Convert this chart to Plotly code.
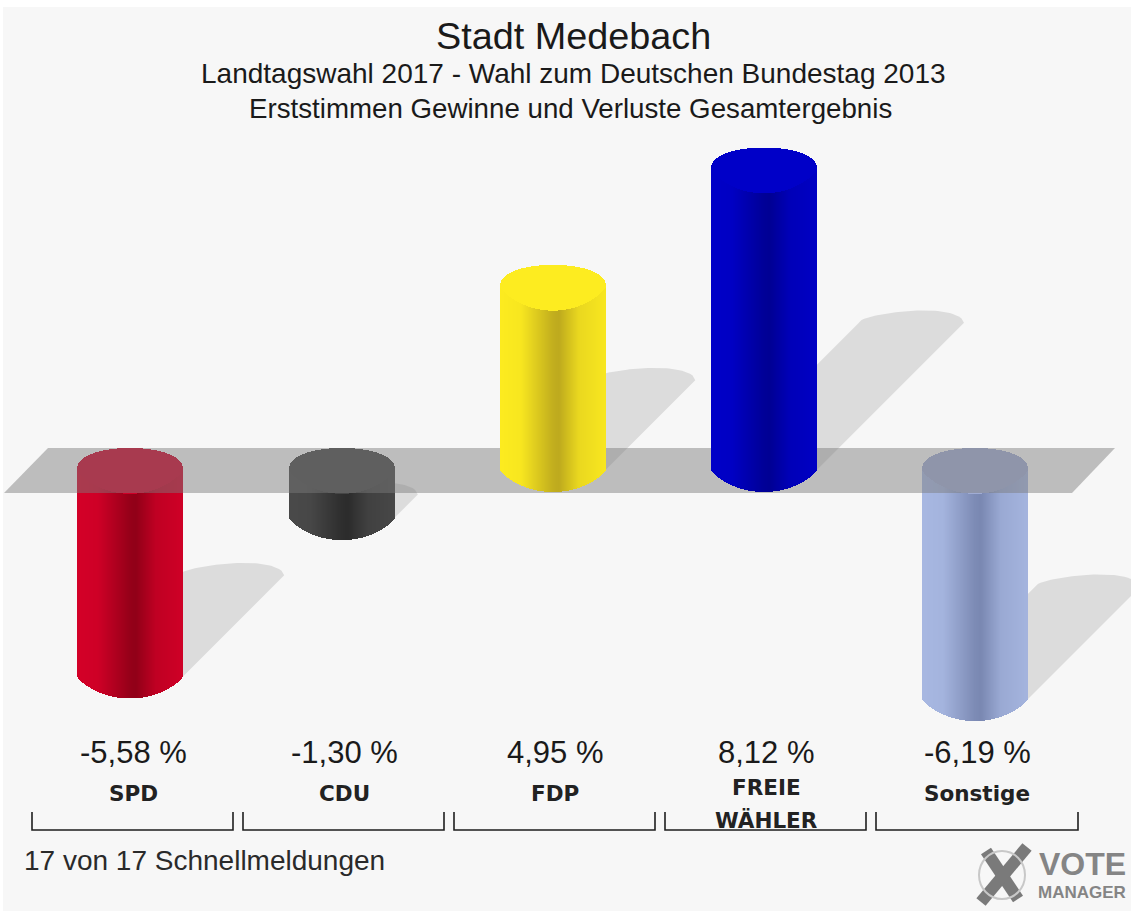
import numpy as np
import plotly.graph_objects as go

# --- data ---
parties = ["SPD", "CDU", "FDP", "FREIE WÄHLER", "Sonstige"]
changes = [-5.58, -1.30, 4.95, 8.12, -6.19]
title_main = "Stadt Medebach"
title_sub1 = "Landtagswahl 2017 - Wahl zum Deutschen Bundestag 2013"
title_sub2 = "Erststimmen Gewinne und Verluste Gesamtergebnis"
footer = "17 von 17 Schnellmeldungen"

# --- style ---
edge_cols = [(212, 0, 40), (74, 74, 74), (253, 236, 32), (0, 0, 200), (168, 184, 226)]
dark_cols = [(145, 0, 24), (44, 44, 44), (190, 170, 30), (0, 0, 148), (122, 136, 178)]
cap_cols = [(208, 0, 40), (70, 70, 70), (253, 236, 32), (0, 0, 200), (160, 172, 212)]
W, H = 1131, 911
SLOT = 211.25        # px between categories
X0 = 130.5           # px of first category
ZERO = 470           # px of value 0
PX_PER = 37.0        # px per percentage point
HALF = 52.5          # cylinder half width, px
RY = 22              # cap semi-axis, px
SHADOW = 0.49


def xv(px):
    return (np.asarray(px, float) - X0) / SLOT


def yv(px):
    return (ZERO - np.asarray(px, float)) / PX_PER


xrange_ = [float(xv(0)), float(xv(W))]
yrange_ = [float(yv(H)), float(yv(0))]
strip_n = 105
u = (np.arange(strip_n) + 0.5) / strip_n * 2 - 1
strip_w = 1.25 / SLOT
dry = RY / PX_PER


def shade(i):
    t = (u + 1) / 2
    f = np.interp(t, [0, 0.2, 0.5, 0.56, 0.75, 1], [0, 0.08, 0.92, 1, 0.3, 0.08])
    e, d = np.array(edge_cols[i], float), np.array(dark_cols[i], float)
    return ["rgb(%d,%d,%d)" % tuple(e + (d - e) * k) for k in f]


fig = go.Figure()
AX = dict(showgrid=False, zeroline=False, showticklabels=False, ticks="", showline=False,
          fixedrange=True, visible=False)
fig.update_layout(
    width=W, height=H, margin=dict(l=0, r=0, t=0, b=0), paper_bgcolor="white", plot_bgcolor="rgba(0,0,0,0)",
    showlegend=False, barmode="overlay", bargap=0,
    xaxis=dict(range=xrange_, domain=[0, 1], **AX), yaxis=dict(range=yrange_, domain=[0, 1], **AX),
    xaxis2=dict(range=xrange_, overlaying="x", **AX),
    yaxis2=dict(range=yrange_, overlaying="y", **AX),
    xaxis3=dict(range=xrange_, overlaying="x", **AX),
    yaxis3=dict(range=yrange_, overlaying="y", **AX),
    shapes=[dict(type="rect", xref="paper", yref="paper", x0=3 / W, x1=1, y0=0, y1=1 - 7 / H,
                 fillcolor="#f7f7f7", line_width=0, layer="below")],
)

# shadows (bottom layer)
for i, v in enumerate(changes):
    cx = i
    base = min(v, 0.0)
    length = abs(v) * SHADOW
    dx = length * PX_PER / SLOT
    hw = HALF / SLOT
    tt = np.linspace(-1, 1, 41)
    ax = cx + dx + tt * hw
    ay = base + length + (12 / PX_PER) * np.sqrt(1 - tt ** 2) * (1 + 0.25 * tt)
    sx = np.concatenate([[cx - hw], ax, [cx + hw]])
    sy = np.concatenate([[base], ay, [base]])
    fig.add_trace(go.Scatter(x=sx, y=sy, mode="lines", fill="toself", fillcolor="#dcdcdc",
                             line=dict(width=0, color="#dcdcdc"), hoverinfo="skip",
                             xaxis="x", yaxis="y"))


def cylinder(i, v, xa, ya):
    cx = i
    xs = cx + u * HALF / SLOT
    top = max(v, 0.0)
    bot = min(v, 0.0)
    low_arc = dry * (1 - u ** 2) ** 0.8
    up_arc = dry * (1 - u ** 2) ** 0.42
    # body
    fig.add_trace(go.Bar(x=xs, base=bot - low_arc, y=(top - (bot - low_arc)), width=strip_w,
                         marker=dict(color=shade(i), line_width=0), hoverinfo="skip",
                         xaxis=xa, yaxis=ya))
    # top cap
    col = "rgb(%d,%d,%d)" % cap_cols[i]
    lo = top - low_arc * 1.08
    hi = top + up_arc
    fig.add_trace(go.Bar(x=xs, base=lo, y=hi - lo, width=strip_w,
                         marker=dict(color=col, line_width=0), hoverinfo="skip",
                         xaxis=xa, yaxis=ya))


# negative cylinders, with the translucent zero plane above them
for i, v in enumerate(changes):
    if v < 0:
        cylinder(i, v, "x2", "y2")
plane_px_x = [4, 48, 1115, 1072, 4]
plane_px_y = [493, 448, 448, 493, 493]
fig.add_trace(go.Scatter(x=xv(plane_px_x), y=yv(plane_px_y), mode="lines", fill="toself",
                         fillcolor="rgba(123,123,123,0.47)", line=dict(width=0, color="rgba(0,0,0,0)"),
                         hoverinfo="skip", xaxis="x2", yaxis="y2"))

# positive cylinders in front of the plane
for i, v in enumerate(changes):
    if v > 0:
        cylinder(i, v, "x3", "y3")

# brackets
for i in range(len(parties)):
    l, r = 32 + i * 211, 233 + i * 211
    if i == 4:
        r += 1
    fig.add_trace(go.Scatter(x=xv([l, l, r, r]), y=yv([812, 830, 830, 812]), mode="lines",
                             line=dict(color="#1e1e1e", width=1.6), hoverinfo="skip",
                             xaxis="x3", yaxis="y3"))

# logo mark
fig.add_shape(type="circle", xref="x3", yref="y3", x0=float(xv(979)), x1=float(xv(1025)),
              y0=float(yv(851)), y1=float(yv(899)), line=dict(color="#c8c8c8", width=2), layer="above")
for a, b in [((986, 851), (1018, 899)), ((1027, 847), (981, 902))]:
    fig.add_trace(go.Scatter(x=xv([a[0], b[0]]), y=yv([a[1], b[1]]), mode="lines",
                             line=dict(color="#7a7a7a", width=12), hoverinfo="skip",
                             xaxis="x3", yaxis="y3"))


def label(px, py, text, size, family="Liberation Sans", color="#1a1a1a", anchor="center"):
    fig.add_annotation(xref="paper", yref="paper", x=px / W, y=1 - py / H, text=text, showarrow=False,
                       xanchor=anchor, yanchor="middle", align=anchor,
                       font=dict(family=family, size=size, color=color))


label(573, 36, title_main, 37.8)
label(573, 73, title_sub1, 28)
label(570, 109, title_sub2, 27.7)
for i, (p, v) in enumerate(zip(parties, changes)):
    cx = 133 + i * 211
    label(cx, 752, ("%.2f %%" % v).replace(".", ","), 31)
    parts = p.split(" ")
    if len(parts) == 1:
        label(cx, 793, "<b>%s</b>" % p, 21.5, "DejaVu Sans", color="#222222")
    else:
        label(cx, 787, "<b>%s</b>" % parts[0], 21.5, "DejaVu Sans", color="#222222")
        label(cx, 820, "<b>%s</b>" % parts[1], 21.5, "DejaVu Sans", color="#222222")
label(22, 860, footer, 28, color="#2a2a2a", anchor="left")
label(1037, 864, "<b>VOTE</b>", 32, color="#858585", anchor="left")
label(1036, 892, "<b>MANAGER</b>", 17, color="#858585", anchor="left")

fig.write_html("out.html", config=dict(displayModeBar=False),
               post_script="document.body.style.margin='0';document.body.style.overflow='hidden';")
